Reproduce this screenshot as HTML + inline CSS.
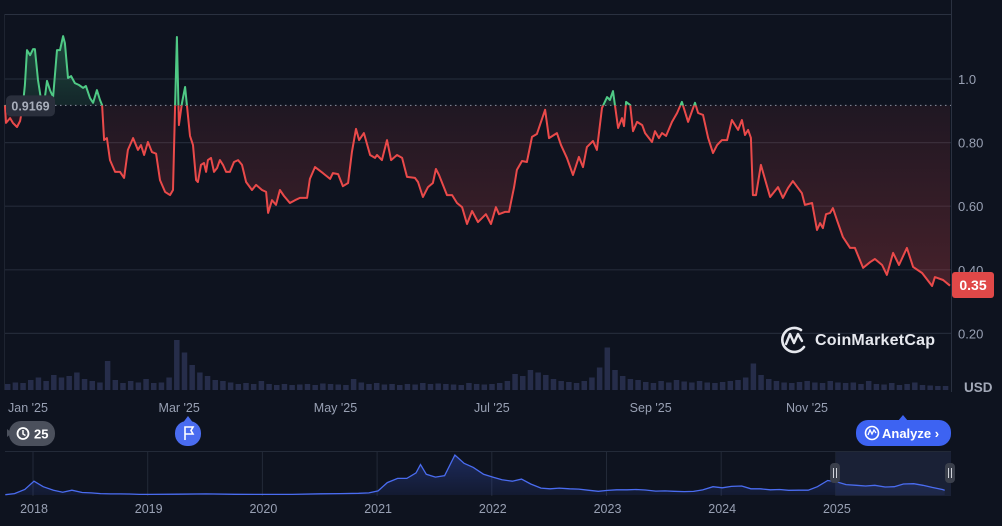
<!DOCTYPE html>
<html><head><meta charset="utf-8">
<style>
html,body{margin:0;padding:0;background:#0e131f;}
body{width:1002px;height:526px;overflow:hidden;font-family:"Liberation Sans",sans-serif;}
svg{display:block}
</style></head>
<body>
<svg id="chart" width="1002" height="526" viewBox="0 0 1002 526" xmlns="http://www.w3.org/2000/svg"></svg>
<script>
// ---- main price data (days since Jan 1 2025, price USD) ----
const days = [-9,-8.6,-7,-5.9,-4.3,-3.1,-2,-1.2,-0.4,0.8,2,2.7,3.9,5.1,6.2,7.4,8.6,9.8,11.3,12.5,13.7,14.4,15.6,16.8,18.3,19.9,21.5,22.6,24.2,25.4,26.9,28.1,28.9,29.7,30.8,32,34,35.9,37.5,39,41,42.9,44.1,45.3,46.8,48.4,50,51.5,53.5,55.4,56.6,57.4,58.1,58.9,60.1,61.3,62,63.2,64.4,65.6,66.3,67.5,68.7,69.5,70.2,71.4,72.6,73.8,74.9,76.1,77.3,78.8,80.4,82,83.5,85.1,87.4,89,91.3,92.9,93.7,95.2,96.8,98.3,99.9,102.2,104.2,106.1,108.9,110,112,115.1,117.9,119,121,122.9,124.9,126.4,128,129.2,131.1,133.5,135.4,136.2,138.1,140.1,141.7,144,146,147.9,151,152.2,154.1,156.1,158,159.2,160.4,163.5,165.5,167.4,169.4,171.3,173.3,175.6,178.7,180.7,182.6,183.8,186.1,187.7,189.7,190.8,192.8,194.7,196.7,198.6,201.8,203.3,206.4,208,210.3,212.7,215,216.6,218.1,220.5,222,224,226,227.1,228.3,230.3,231.8,232.6,233.4,235,236.1,237.7,239.7,240.8,243.5,244.7,246.2,247.4,249,251.3,253.3,255.2,257.6,260.3,261.5,263.4,265.4,267.3,268.9,270.8,272.8,274.7,277.1,278.6,279.8,281,282.1,282.9,284.1,286,289.6,292.7,294.6,296.6,298.5,302,303.2,306,307.9,309.1,310.2,311.4,313,314.1,315.7,318,320.8,322.7,325.9,328.6,330.5,333.3,335.2,337.6,339.9,343,345.4,348.9,352.8,353.9,357.1,359.8];
const prices = [.918,.862,.877,.862,.849,.868,.918,.981,1.091,1.075,1.094,1.094,.997,.934,.918,.994,.965,.943,1.091,1.091,1.135,1.113,1.003,1.009,.987,.981,.972,.978,.940,.925,.965,.934,.918,.808,.814,.745,.708,.708,.689,.777,.814,.777,.792,.761,.802,.770,.765,.682,.645,.635,.651,.918,1.132,.855,.925,.975,.918,.821,.792,.682,.676,.730,.736,.708,.745,.752,.708,.720,.745,.730,.708,.708,.739,.745,.730,.676,.651,.667,.651,.645,.579,.619,.604,.651,.632,.610,.619,.626,.626,.686,.723,.704,.686,.704,.701,.663,.673,.770,.843,.808,.830,.761,.752,.761,.745,.808,.745,.761,.752,.692,.689,.676,.629,.660,.673,.717,.698,.635,.635,.610,.597,.544,.585,.550,.575,.544,.597,.575,.582,.582,.660,.714,.742,.739,.818,.827,.903,.814,.830,.792,.752,.698,.755,.723,.786,.805,.777,.909,.943,.934,.962,.846,.877,.852,.928,.918,.836,.865,.855,.830,.802,.836,.814,.830,.821,.865,.893,.928,.865,.925,.893,.887,.815,.767,.792,.808,.808,.871,.840,.871,.824,.840,.815,.635,.635,.730,.629,.660,.626,.657,.679,.641,.604,.610,.525,.547,.531,.575,.579,.594,.556,.503,.469,.469,.406,.424,.434,.415,.384,.453,.415,.469,.409,.390,.349,.377,.368,.350];
const baseline = 0.9169;
const volStartDay = -9, volStep = 3;
const volumes = [12,15,14,20,25,18,30,25,28,35,22,18,15,58,20,14,18,15,22,14,15,25,100,75,50,35,28,20,18,15,12,14,12,18,12,10,12,10,11,12,10,13,12,11,10,22,15,12,14,11,12,10,12,11,14,12,13,12,11,10,14,12,11,12,14,18,32,28,40,35,30,22,18,16,14,18,25,45,85,40,28,22,20,16,14,18,15,20,17,15,18,15,14,16,18,20,25,53,30,22,18,15,14,16,18,15,14,18,15,14,15,12,18,12,11,14,10,12,15,10,9,8,8];
const yTicks = [1.0,0.8,0.6,0.4,0.2];
const yTickLabels = ["1.0","0.80","0.60","0.40","0.20"];
const monthLabels = ["Jan '25","Mar '25","May '25","Jul '25","Sep '25","Nov '25"];
const monthDays = [0,59,120,181,243,304];
// ---- navigator data (year fraction, price) ----
const navYears = [2017.75,2017.83,2017.92,2018.0,2018.08,2018.17,2018.25,2018.33,2018.42,2018.5,2018.58,2018.67,2018.75,2018.83,2018.92,2019.0,2019.25,2019.5,2019.75,2020.0,2020.25,2020.5,2020.67,2020.83,2020.92,2021.0,2021.08,2021.17,2021.25,2021.33,2021.37,2021.42,2021.5,2021.58,2021.67,2021.75,2021.83,2021.92,2022.0,2022.08,2022.17,2022.25,2022.33,2022.42,2022.5,2022.58,2022.67,2022.75,2022.83,2022.92,2023.0,2023.08,2023.17,2023.25,2023.33,2023.42,2023.5,2023.58,2023.67,2023.75,2023.83,2023.92,2024.0,2024.08,2024.17,2024.25,2024.33,2024.42,2024.5,2024.58,2024.67,2024.75,2024.83,2024.92,2025.0,2025.08,2025.17,2025.25,2025.33,2025.42,2025.5,2025.58,2025.67,2025.75,2025.83,2025.92,2025.94];
const navPrices = [0.02,0.1,0.4,1.0,0.6,0.35,0.2,0.35,0.18,0.15,0.1,0.08,0.08,0.07,0.04,0.04,0.06,0.08,0.05,0.04,0.04,0.09,0.1,0.12,0.15,0.3,0.9,1.2,1.2,1.6,2.2,1.5,1.3,1.4,2.9,2.3,2.0,1.5,1.3,1.1,1.0,1.15,0.8,0.5,0.45,0.5,0.45,0.43,0.35,0.27,0.33,0.38,0.38,0.4,0.36,0.28,0.3,0.27,0.25,0.26,0.37,0.6,0.52,0.62,0.65,0.45,0.45,0.38,0.4,0.34,0.35,0.35,0.6,1.05,0.95,0.75,0.7,0.65,0.7,0.58,0.6,0.8,0.82,0.7,0.55,0.4,0.35];
const navYearLabels = ["2018","2019","2020","2021","2022","2023","2024","2025"];

const NS="http://www.w3.org/2000/svg";
const svg=document.getElementById('chart');
function mk(tag,attrs,parent){const e=document.createElementNS(NS,tag);for(const k in attrs)e.setAttribute(k,attrs[k]);(parent||svg).appendChild(e);return e;}
const X=d=>28+d*2.5625;
const Y=v=>79+(1-v)*318;
const VY0=390, VS=0.5;
const NX=y=>34+(y-2018)*114.7;
const NY=v=>495-v*13.8;

const defs=mk('defs',{});
defs.innerHTML='<linearGradient id="gRed" x1="0" y1="105" x2="0" y2="300" gradientUnits="userSpaceOnUse"><stop offset="0" stop-color="#e0474a" stop-opacity="0.08"/><stop offset="1" stop-color="#e0474a" stop-opacity="0.28"/></linearGradient>'+
'<linearGradient id="gGreen" x1="0" y1="30" x2="0" y2="105" gradientUnits="userSpaceOnUse"><stop offset="0" stop-color="#3fb57a" stop-opacity="0.35"/><stop offset="1" stop-color="#3fb57a" stop-opacity="0.12"/></linearGradient>'+
'<clipPath id="cAbove"><rect x="0" y="0" width="951" height="'+Y(baseline)+'"/></clipPath>'+
'<clipPath id="cBelow"><rect x="0" y="'+Y(baseline)+'" width="951" height="400"/></clipPath>'+
'<linearGradient id="gNav" x1="0" y1="450" x2="0" y2="495" gradientUnits="userSpaceOnUse"><stop offset="0" stop-color="#3d5bd9" stop-opacity="0.35"/><stop offset="1" stop-color="#3d5bd9" stop-opacity="0.1"/></linearGradient>';

let e=mk('line',{x1:5,y1:14.5,x2:951,y2:14.5,stroke:'#2a3140','stroke-width':1});

e=mk('line',{x1:4.5,y1:14,x2:4.5,y2:390,stroke:'#1e2431','stroke-width':1});

e=mk('line',{x1:951.5,y1:0,x2:951.5,y2:392,stroke:'#2a3140','stroke-width':1});


yTicks.forEach((t,i)=>{
  const g=mk('line',{x1:5,x2:951,y1:Y(t),y2:Y(t),stroke:'#232a38','stroke-width':1.2});
  
  const tx=mk('text',{x:958,y:Y(t)+5,fill:'#98a0b3','font-size':13});
  tx.textContent=yTickLabels[i];
  
});

volumes.forEach((v,i)=>{
  const d=volStartDay+i*volStep;
  const x=X(d), w=volStep*2.5625-2.2;
  const h=v*VS;
  const r=mk('rect',{x:x,y:VY0-h,width:w,height:h,fill:'#262d4a'});
  
});

let lp='';
days.forEach((d,i)=>{lp+=(i?'L':'M')+X(d).toFixed(1)+' '+Y(prices[i]).toFixed(1);});
const by=Y(baseline);
const ap=lp+'L'+X(days[days.length-1]).toFixed(1)+' '+by+'L'+X(days[0]).toFixed(1)+' '+by+'Z';
e=mk('path',{d:ap,fill:'url(#gRed)','clip-path':'url(#cBelow)'});

e=mk('path',{d:ap,fill:'url(#gGreen)','clip-path':'url(#cAbove)'});


e=mk('line',{x1:5,x2:951,y1:by,y2:by,stroke:'#8a90a0','stroke-width':1,'stroke-dasharray':'1.5 3.5'});


e=mk('path',{d:lp,fill:'none',stroke:'#ea4a4a','stroke-width':2,'stroke-linejoin':'round','clip-path':'url(#cBelow)'});

e=mk('path',{d:lp,fill:'none',stroke:'#4fc985','stroke-width':2,'stroke-linejoin':'round','clip-path':'url(#cAbove)'});


const bl=mk('g',{});

mk('rect',{x:6,y:by-10,width:49,height:21,rx:5,fill:'#2a2f3c'},bl);
const blt=mk('text',{x:30.5,y:by+5,fill:'#a8aebb','font-size':12.5,'font-weight':'bold','text-anchor':'middle'},bl);
blt.textContent='0.9169';

const cp=mk('g',{});

mk('rect',{x:952,y:272,width:42,height:26,rx:3,fill:'#e04848'},cp);
const cpt=mk('text',{x:973,y:290,fill:'#ffffff','font-size':14,'font-weight':'bold','text-anchor':'middle'},cp);
cpt.textContent=prices[prices.length-1].toFixed(2);

e=mk('text',{x:964,y:392,fill:'#a3a9b8','font-size':13.5,'font-weight':'bold'});e.textContent='USD';


const wm=mk('g',{});

mk('path',{d:'M 801 330 A 12 12 0 1 0 804 347',fill:'none',stroke:'#e6e8ee','stroke-width':2.6,'stroke-linecap':'round'},wm);
mk('path',{d:'M 786 344 L 790 334 L 794 343 L 798 334 L 802 341',fill:'none',stroke:'#e6e8ee','stroke-width':2.4,'stroke-linejoin':'round','stroke-linecap':'round'},wm);
const wt=mk('text',{x:815,y:345,fill:'#e6e8ee','font-size':16,'font-weight':'bold','textLength':120},wm);wt.textContent='CoinMarketCap';

monthLabels.forEach((m,i)=>{
  const t=mk('text',{x:X(monthDays[i]),y:412,fill:'#98a0b3','font-size':12.5,'text-anchor':'middle'});
  t.textContent=m;
  
});

const hp=mk('g',{});

mk('path',{d:'M 12 433 L 7 429 L 7 437 Z',fill:'#4b505c'},hp);
mk('rect',{x:9,y:421,width:46,height:25,rx:12,fill:'#4b505c'},hp);
mk('circle',{cx:23,cy:433.5,r:5.5,fill:'none',stroke:'#fff','stroke-width':1.8},hp);
mk('path',{d:'M23 430 L23 434 L25.5 435.5',fill:'none',stroke:'#fff','stroke-width':1.5},hp);
const hpt=mk('text',{x:34,y:438.5,fill:'#fff','font-size':13,'font-weight':'bold'},hp);hpt.textContent='25';

const fm=mk('g',{});

mk('path',{d:'M 188 416 L 194 424 L 182 424 Z',fill:'#4a6cf0'},fm);
mk('rect',{x:175,y:421,width:26,height:25,rx:12,fill:'#4a6cf0'},fm);
mk('path',{d:'M185 440 L185 427 L193 427 L191 430.5 L193 434 L185 434',fill:'none',stroke:'#fff','stroke-width':1.6},fm);

const ab=mk('g',{});

mk('path',{d:'M 903 415 L 908 421 L 898 421 Z',fill:'#3d63f2'},ab);
mk('rect',{x:856,y:420,width:95,height:26,rx:12,fill:'#3d63f2'},ab);
mk('circle',{cx:872,cy:433,r:6.5,fill:'none',stroke:'#fff','stroke-width':1.6},ab);
mk('path',{d:'M868 435 L870 430 L872 434 L874 430 L876 433',fill:'none',stroke:'#fff','stroke-width':1.3},ab);
const abt=mk('text',{x:882,y:438,fill:'#fff','font-size':13,'font-weight':'bold'},ab);abt.textContent='Analyze ›';

const nav=mk('g',{});

mk('line',{x1:5,x2:951,y1:451.5,y2:451.5,stroke:'#232a38','stroke-width':1},nav);
navYearLabels.forEach((l,i)=>{
  const yr=2018+i;
  const gl=mk('line',{x1:NX(yr)-1,x2:NX(yr)-1,y1:452,y2:496,stroke:'#232a38','stroke-width':1},nav);
  
  const t=mk('text',{x:NX(yr),y:513,fill:'#98a0b3','font-size':12.5,'text-anchor':'middle'},nav);
  t.textContent=l;
  
});
e=mk('rect',{x:836,y:452,width:115,height:44,fill:'#1a2136'},nav);

let np='';
navYears.forEach((y,i)=>{np+=(i?'L':'M')+NX(y).toFixed(1)+' '+NY(navPrices[i]).toFixed(1);});
const nap=np+'L'+NX(navYears[navYears.length-1]).toFixed(1)+' 495 L'+NX(navYears[0]).toFixed(1)+' 495 Z';
e=mk('path',{d:nap,fill:'url(#gNav)'},nav);

e=mk('path',{d:np,fill:'none',stroke:'#4a6cf0','stroke-width':1.3},nav);

[835,950].forEach(hx=>{
  const h=mk('g',{},nav);
  
  mk('rect',{x:hx-5,y:463,width:10,height:20,rx:4,fill:'#3a3f4b'},h);
  mk('line',{x1:hx-1.5,x2:hx-1.5,y1:468,y2:478,stroke:'#d0d3da','stroke-width':1},h);
  mk('line',{x1:hx+1.5,x2:hx+1.5,y1:468,y2:478,stroke:'#d0d3da','stroke-width':1},h);
});
</script>
</body></html>
